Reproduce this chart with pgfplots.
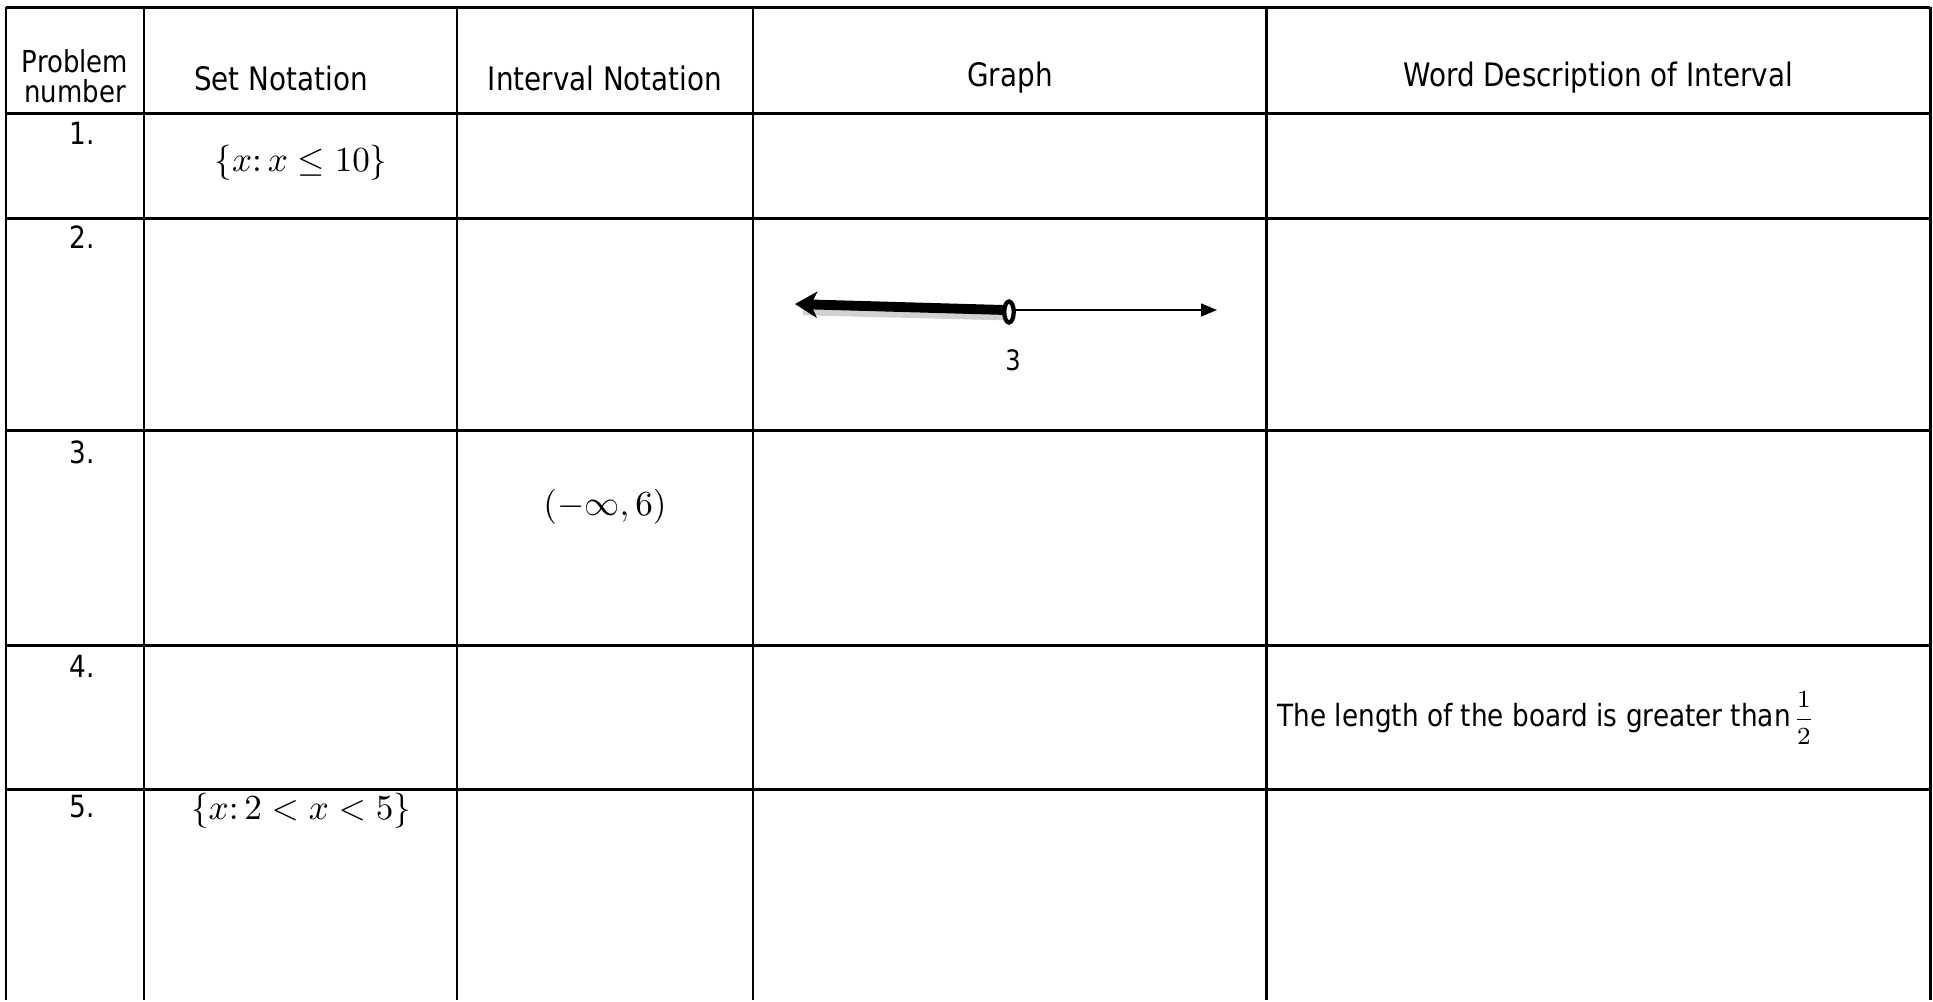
\documentclass[border=0pt]{standalone}
\usepackage{fontspec}
\setmainfont{DejaVu Sans}[FakeStretch=0.86]
\usepackage{pgfplots}
\pgfplotsset{compat=1.18}
\usetikzlibrary{arrows.meta}

\newcommand{\hd}{\fontsize{9.2}{9}\selectfont}
\newcommand{\bd}{\fontsize{8.7}{10}\selectfont}
\newcommand{\mth}{\fontsize{10}{12}\selectfont}

\begin{document}
\begin{tikzpicture}
\begin{axis}[
  width=19.33cm, height=10cm, scale only axis,
  xmin=0, xmax=1933, ymin=0, ymax=1000, y dir=reverse,
  axis line style={draw=none}, ticks=none,
  clip=false, unbounded coords=jump
]
% table grid (pixel coordinates of the reference, y downward)
\addplot[black, line width=0.85pt] coordinates {
  (6,7) (6,1000) (nan,nan)
  (144,7) (144,1000) (nan,nan)
  (457,7) (457,1000) (nan,nan)
  (753,7) (753,1000) (nan,nan)
  (1266,7) (1266,1000) (nan,nan)
  (1930,7) (1930,1000) (nan,nan)
  (6,7) (1930,7) (nan,nan)
  (6,113) (1930,113) (nan,nan)
  (6,218) (1930,218) (nan,nan)
  (6,430) (1930,430) (nan,nan)
  (6,645) (1930,645) (nan,nan)
  (6,789) (1930,789)
};

% number line in row 2
\addplot[black!18, line width=3pt] coordinates {(1004,315) (803,310)};
\addplot[black, line width=0.4pt, -{Triangle[length=1.6mm,width=1.3mm]}] coordinates {(1009,310) (1217,310)};
\addplot[black, line width=2.8pt, -{Stealth[length=2.2mm,width=2.6mm,inset=0.6mm]}] coordinates {(1005,310) (795,304)};
\addplot[black, only marks, mark=*, mark size=3pt,
  mark options={xscale=0.45, fill=white, line width=1.2pt}] coordinates {(1009,312)};

% header
\node[align=center, font=\fontsize{8.6}{8.6}\selectfont] at (axis cs:75,76) {Problem\\number};
\node[font=\hd] at (axis cs:281,78) {Set Notation};
\node[font=\hd] at (axis cs:605,78) {Interval Notation};
\node[font=\hd] at (axis cs:1010,78) {Graph};
\node[font=\hd] at (axis cs:1598,78) {Word Description of Interval};

% row numbers
\node[font=\bd] at (axis cs:82,133) {1.};
\node[font=\bd] at (axis cs:82,237) {2.};
\node[font=\bd] at (axis cs:82,452) {3.};
\node[font=\bd] at (axis cs:82,666) {4.};
\node[font=\bd] at (axis cs:82,807) {5.};

% cell contents
\node[font=\mth] at (axis cs:301,163) {$\{x\colon x\leq 10\}$};
\node[font=\mth] at (axis cs:605,507) {$(-\infty,6)$};
\node[font=\mth] at (axis cs:301,811) {$\{x\colon 2<x<5\}$};
\node[font=\fontsize{8}{9}\selectfont] at (axis cs:1013,360) {3};
\node[font=\bd, anchor=west, inner sep=0pt] at (axis cs:1277,718) {The length of the board is greater than};
\node[font=\fontsize{7.5}{9}\selectfont, anchor=west, inner sep=0pt] at (axis cs:1792,718) {$\displaystyle\frac{1}{2}$};
\end{axis}
\end{tikzpicture}
\end{document}
